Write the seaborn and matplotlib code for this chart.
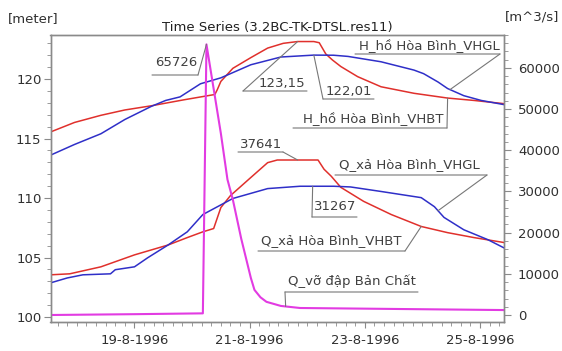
import numpy as np
import pandas as pd
import matplotlib
matplotlib.use("Agg")
import matplotlib.pyplot as plt
import matplotlib.dates as mdates
from matplotlib.ticker import FuncFormatter, MultipleLocator
import seaborn as sns

YEAR = "1996-"

# H_hồ Hòa Bình_VHBT (left axis, meter)
h_vhbt_time = ["08-17 13:00", "08-17 23:00", "08-18 10:00", "08-18 20:00", "08-19 07:00",
               "08-19 20:30", "08-20 09:30", "08-20 10:30", "08-20 12:00", "08-20 17:00",
               "08-21 00:30", "08-21 07:30", "08-21 14:00", "08-21 20:00", "08-22 02:45",
               "08-22 05:00", "08-22 07:45", "08-22 10:30", "08-22 14:00", "08-22 21:00",
               "08-23 06:45", "08-23 20:30", "08-24 10:30", "08-24 21:30", "08-25 10:00"]
h_vhbt = [115.55, 116.35, 116.95, 117.4, 117.75,
          118.25, 118.7, 119.1, 119.8, 120.9,
          121.8, 122.6, 123.0, 123.15, 123.15,
          123.05, 122.1, 121.6, 121.05, 120.2,
          119.35, 118.8, 118.4, 118.2, 117.93]

# H_hồ Hòa Bình_VHGL (left axis, meter)
h_vhgl_time = ["08-17 13:00", "08-17 23:00", "08-18 10:00", "08-18 20:00", "08-19 07:00",
               "08-19 13:00", "08-19 19:00", "08-20 03:30", "08-20 12:00", "08-21 00:30",
               "08-21 13:00", "08-22 02:45", "08-22 11:00", "08-22 17:00", "08-23 06:45",
               "08-23 20:30", "08-24 00:30", "08-24 06:30", "08-24 10:30", "08-24 17:15",
               "08-25 00:30", "08-25 10:00"]
h_vhgl = [113.6, 114.5, 115.4, 116.6, 117.7,
          118.2, 118.5, 119.6, 120.1, 121.2,
          121.85, 122.01, 122.0, 121.9, 121.45,
          120.75, 120.45, 119.75, 119.2, 118.6,
          118.2, 117.85]

# Q_xả Hòa Bình_VHBT (right axis, m^3/s)
q_vhbt_time = ["08-17 13:00", "08-17 21:00", "08-18 10:00", "08-19 00:00", "08-19 14:00",
               "08-19 22:00", "08-20 04:30", "08-20 09:00", "08-20 12:00", "08-20 16:00",
               "08-21 00:30", "08-21 07:30", "08-21 11:30", "08-22 04:30", "08-22 07:00",
               "08-22 10:00", "08-22 14:00", "08-22 23:30", "08-23 11:00", "08-23 23:30",
               "08-24 10:30", "08-24 21:30", "08-25 10:00"]
q_vhbt = [9760, 10000, 11700, 14600, 17000,
          18800, 20200, 21000, 26100, 29000,
          33400, 37000, 37641, 37641, 35400,
          33700, 31000, 27600, 24400, 21500,
          20000, 18800, 17600]

# Q_xả Hòa Bình_VHGL (right axis, m^3/s)
q_vhgl_time = ["08-17 13:00", "08-17 20:00", "08-18 02:30", "08-18 14:00", "08-18 16:00",
               "08-19 00:00", "08-19 05:30", "08-19 14:00", "08-19 22:00", "08-20 04:30",
               "08-20 17:00", "08-21 07:30", "08-21 21:00", "08-22 11:00", "08-22 18:00",
               "08-23 06:45", "08-23 23:30", "08-24 05:00", "08-24 09:00", "08-24 17:15",
               "08-25 03:15", "08-25 10:00"]
q_vhgl = [7800, 9000, 9760, 10000, 11000,
          11700, 13900, 17000, 20200, 24400,
          28300, 30700, 31267, 31267, 31100,
          30000, 28500, 26300, 23700, 20700,
          18300, 16300]

# Q_vỡ đập Bản Chất (right axis, m^3/s)
q_vo_time = ["08-17 13:00", "08-19 00:00", "08-20 04:30", "08-20 06:00", "08-20 12:00",
             "08-20 14:45", "08-20 17:00", "08-20 20:30", "08-21 00:30", "08-21 02:00",
             "08-21 04:30", "08-21 07:00", "08-21 13:00", "08-21 21:00", "08-25 10:00"]
q_vo = [0, 200, 400, 65726, 44100,
        32900, 28000, 18500, 9000, 6100,
        4300, 3200, 2200, 1700, 1200]

title = "Time Series (3.2BC-TK-DTSL.res11)"
left_unit = "[meter]"
right_unit = "[m^3/s]"
major_days = [19, 21, 23, 25]


def ts(lst):
    return pd.to_datetime([YEAR + s for s in lst])


sns.set_style("white")
plt.rcParams["font.family"] = ["DejaVu Sans"]

W, H = 562, 351
fig = plt.figure(figsize=(W / 100, H / 100), dpi=100)
ax = fig.add_axes([50.5 / W, 1 - 322 / H, (504 - 50.5) / W, (322 - 35) / H])
ax2 = ax.twinx()

RED = "#e0302c"
BLUE = "#2f2fc8"
MAG = "#e23be2"

df_hb = pd.DataFrame({"t": ts(h_vhbt_time), "v": h_vhbt})
df_hg = pd.DataFrame({"t": ts(h_vhgl_time), "v": h_vhgl})
df_qb = pd.DataFrame({"t": ts(q_vhbt_time), "v": q_vhbt})
df_qg = pd.DataFrame({"t": ts(q_vhgl_time), "v": q_vhgl})
df_qv = pd.DataFrame({"t": ts(q_vo_time), "v": q_vo})

sns.lineplot(data=df_hb, x="t", y="v", ax=ax, color=RED, lw=1.1, legend=False, estimator=None)
sns.lineplot(data=df_hg, x="t", y="v", ax=ax, color=BLUE, lw=1.1, legend=False, estimator=None)
sns.lineplot(data=df_qb, x="t", y="v", ax=ax2, color=RED, lw=1.1, legend=False, estimator=None)
sns.lineplot(data=df_qg, x="t", y="v", ax=ax2, color=BLUE, lw=1.1, legend=False, estimator=None)
sns.lineplot(data=df_qv, x="t", y="v", ax=ax2, color=MAG, lw=1.5, legend=False, estimator=None)

t0 = df_hb["t"].iloc[0]
t1 = df_hb["t"].iloc[-1]
ax.set_xlim(t0, t1)
ax.set_ylim(99.58, 123.7)
ax2.set_ylim(-1700, 68000)

for a in (ax, ax2):
    a.set_xlabel("")
    a.set_ylabel("")
    a.grid(False)
    for s in a.spines.values():
        s.set_color("#8a8a8a")
        s.set_linewidth(1.0)

ax.xaxis.set_major_locator(mdates.DayLocator(bymonthday=major_days))
ax.xaxis.set_minor_locator(mdates.HourLocator(byhour=range(0, 24, 4)))


def dfmt(x, pos):
    d = mdates.num2date(x)
    return f"{d.day}-{d.month}-{d.year}"


ax.xaxis.set_major_formatter(FuncFormatter(dfmt))
ax.yaxis.set_major_locator(MultipleLocator(5))
ax.yaxis.set_minor_locator(MultipleLocator(1))
ax2.yaxis.set_major_locator(MultipleLocator(10000))
ax2.yaxis.set_minor_locator(MultipleLocator(2000))
ax2.yaxis.set_major_formatter(FuncFormatter(lambda v, p: f"{int(v)}"))

lab_col = "#303030"
ax.tick_params(axis="x", which="major", direction="out", length=4, width=0.8, color="#8a8a8a",
               labelsize=9.5, labelcolor=lab_col, pad=5, bottom=True)
ax.tick_params(axis="x", which="minor", direction="out", length=3, width=0.6, color="#8a8a8a", bottom=True)
ax.tick_params(axis="y", which="major", direction="out", length=5, width=0.8, color="#8a8a8a",
               labelsize=9.5, labelcolor=lab_col, pad=1.5, left=True)
ax.tick_params(axis="y", which="minor", direction="out", length=3, width=0.6, color="#8a8a8a", left=True)
ax2.tick_params(axis="y", which="major", direction="out", length=5, width=0.8, color="#8a8a8a",
                labelsize=9.5, labelcolor=lab_col, pad=5, right=True)
ax2.tick_params(axis="y", which="minor", direction="out", length=3, width=0.6, color="#8a8a8a", right=True)

fig.text(277 / W, 1 - 27 / H, title, ha="center", va="center", fontsize=9.5, color="#202020")
fig.text(8 / W, 1 - 19 / H, left_unit, ha="left", va="center", fontsize=9.5, color=lab_col)
fig.text(505 / W, 1 - 17 / H, right_unit, ha="left", va="center", fontsize=9.5, color=lab_col)

GRAY = "#777777"


def fpx(x, y):
    return (x, H - y)


def value_at(df, when):
    tt = mdates.date2num(df["t"])
    w = mdates.date2num(pd.Timestamp(YEAR + when))
    return w, float(np.interp(w, tt, df["v"]))


def callout(axis, text, cx, cy, ux0, ux1, uy, lx, ly, target):
    fig.text(cx / W, 1 - cy / H, text, ha="center", va="center", fontsize=9.5, color="#404040")
    axis.annotate("", xy=fpx(ux1, uy), xytext=fpx(ux0, uy), xycoords="figure pixels",
                  textcoords="figure pixels",
                  arrowprops=dict(arrowstyle="-", color=GRAY, lw=0.8, shrinkA=0, shrinkB=0))
    axis.annotate("", xy=target, xytext=fpx(lx, ly), xycoords="data", textcoords="figure pixels",
                  arrowprops=dict(arrowstyle="-", color=GRAY, lw=0.8, shrinkA=0, shrinkB=0))


# peak of the dam-break flow
i_pk = int(np.argmax(df_qv["v"]))
pk = (mdates.date2num(df_qv["t"].iloc[i_pk]), df_qv["v"].iloc[i_pk])
callout(ax2, f"{q_vo[i_pk]}", 176, 63, 152, 198, 75, 198, 75, pk)

# max of H VHBT
i_hb = int(np.argmax(df_hb["v"]))
callout(ax, f"{h_vhbt[i_hb]:.2f}".replace(".", ","), 282, 83, 243, 307, 91, 243, 91,
        value_at(df_hb, "08-21 20:00"))

# max of H VHGL
i_hg = int(np.argmax(df_hg["v"]))
callout(ax, f"{h_vhgl[i_hg]:.2f}".replace(".", ","), 349, 91, 323, 374, 99, 323, 99,
        value_at(df_hg, h_vhgl_time[i_hg][0:11]))

callout(ax, "H_hồ Hòa Bình_VHGL", 429, 46, 355, 500, 54, 500, 54, value_at(df_hg, "08-24 11:30"))
callout(ax, "H_hồ Hòa Bình_VHBT", 373, 119, 293, 447, 128, 447, 128, value_at(df_hb, "08-24 10:30"))

i_qb = int(np.argmax(df_qb["v"]))
callout(ax2, f"{q_vhbt[i_qb]}", 261, 144, 238, 283, 152, 283, 152, value_at(df_qb, "08-21 20:00"))

i_qg = int(np.argmax(df_qg["v"]))
callout(ax2, f"{q_vhgl[i_qg]}", 335, 207, 312, 357, 217, 312, 217, value_at(df_qg, "08-22 02:15"))

callout(ax2, "Q_xả Hòa Bình_VHGL", 409, 165, 335, 487, 175, 487, 175, value_at(df_qg, "08-24 06:30"))
callout(ax2, "Q_xả Hòa Bình_VHBT", 331, 241, 258, 405, 251, 405, 251, value_at(df_qb, "08-23 23:30"))
callout(ax2, "Q_vỡ đập Bản Chất", 352, 281, 285, 418, 292, 285, 292, value_at(df_qv, "08-21 15:00"))

fig.savefig("out.png", dpi=100)
